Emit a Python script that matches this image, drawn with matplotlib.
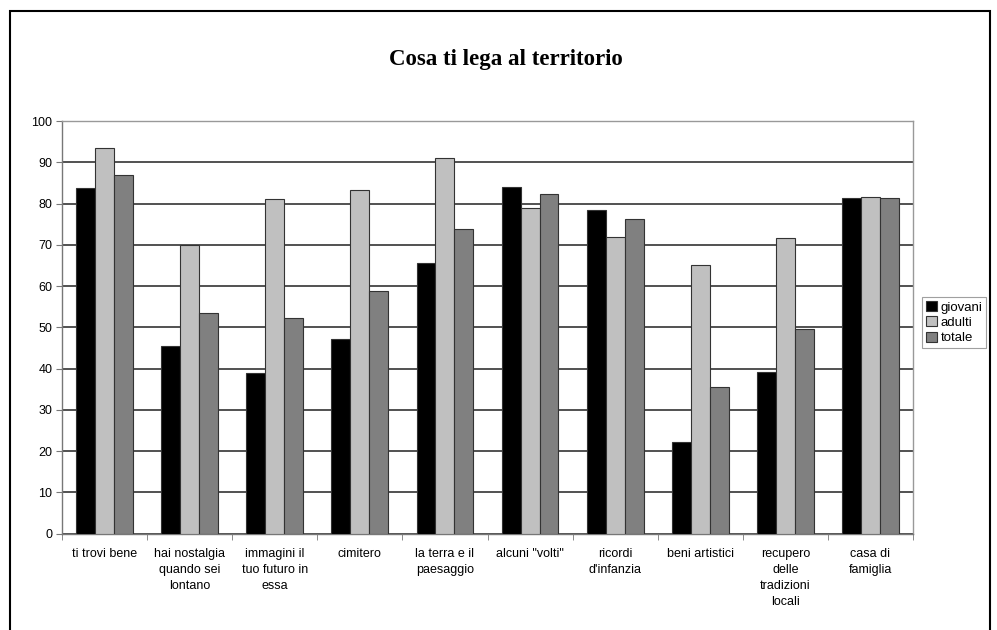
import numpy as np
import matplotlib.pyplot as plt
from matplotlib.patches import Rectangle

# categories and values
categories = [
    "ti trovi bene",
    "hai nostalgia\nquando sei\nlontano",
    "immagini il\ntuo futuro in\nessa",
    "cimitero",
    "la terra e il\npaesaggio",
    "alcuni \"volti\"",
    "ricordi\nd'infanzia",
    "beni artistici",
    "recupero\ndelle\ntradizioni\nlocali",
    "casa di\nfamiglia",
]
giovani = [83.8, 45.4, 39.0, 47.1, 65.5, 84.0, 78.4, 22.2, 39.2, 81.4]
adulti = [93.4, 70.0, 81.0, 83.4, 91.0, 79.0, 71.8, 65.1, 71.6, 81.6]
totale = [86.9, 53.4, 52.3, 58.8, 73.8, 82.4, 76.2, 35.6, 49.6, 81.4]
series_names = ["giovani", "adulti", "totale"]
y_ticks = [0, 10, 20, 30, 40, 50, 60, 70, 80, 90, 100]

colors = ["#000000", "#c0c0c0", "#808080"]
font = "Liberation Sans"

fig = plt.figure(figsize=(9.97, 6.3), dpi=100)
fig.patch.set_facecolor("white")

# outer frame around the whole chart
fig.patches.append(Rectangle((10 / 997, -0.05), 980 / 997, 1.05 - 11 / 630,
                             transform=fig.transFigure, fill=False,
                             edgecolor="black", linewidth=1.5))

ax = fig.add_axes([62 / 997, (630 - 533.7) / 630, 851 / 997, 412.7 / 630])

x = np.arange(len(categories))
w = 1 / 4.5
for i, (vals, name) in enumerate(zip([giovani, adulti, totale], series_names)):
    ax.bar(x + (i - 1) * w, vals, width=w, color=colors[i], edgecolor="#333333",
           linewidth=0.8, label=name, zorder=3)

ax.set_xlim(-0.5, len(categories) - 0.5)
ax.set_ylim(0, 100)
ax.set_yticks(y_ticks)
ax.set_yticklabels([str(t) for t in y_ticks], fontsize=9, family=font)
ax.yaxis.grid(True, color="#222222", linewidth=1.1, zorder=0)

ax.set_xticks(x)
ax.set_xticklabels(categories, fontsize=9, family=font, linespacing=1.45,
                   va="top")
ax.tick_params(axis="x", length=0, pad=10)
ax.set_xticks(np.arange(-0.5, len(categories)), minor=True)
ax.tick_params(axis="x", which="minor", length=4, color="#777777")
ax.tick_params(axis="y", length=4, color="#777777", pad=3)

for side in ["top", "right"]:
    ax.spines[side].set_color("#999999")
    ax.spines[side].set_linewidth(1.0)
for side in ["left", "bottom"]:
    ax.spines[side].set_color("#777777")
    ax.spines[side].set_linewidth(1.0)

fig.text(506 / 997, 1 - 60 / 630, "Cosa ti lega al territorio",
         ha="center", va="center", fontsize=16.5, fontweight="bold",
         family="Liberation Serif")

leg = fig.legend(loc="upper left", bbox_to_anchor=(922 / 997, 1 - 297 / 630),
                 prop={"family": font, "size": 9.5},
                 handlelength=0.8, handleheight=0.8, handletextpad=0.3,
                 borderpad=0.3, labelspacing=0.2, fancybox=False,
                 borderaxespad=0)
leg.get_frame().set_edgecolor("#888888")
leg.get_frame().set_linewidth(0.8)

fig.savefig("out.png", dpi=100)
